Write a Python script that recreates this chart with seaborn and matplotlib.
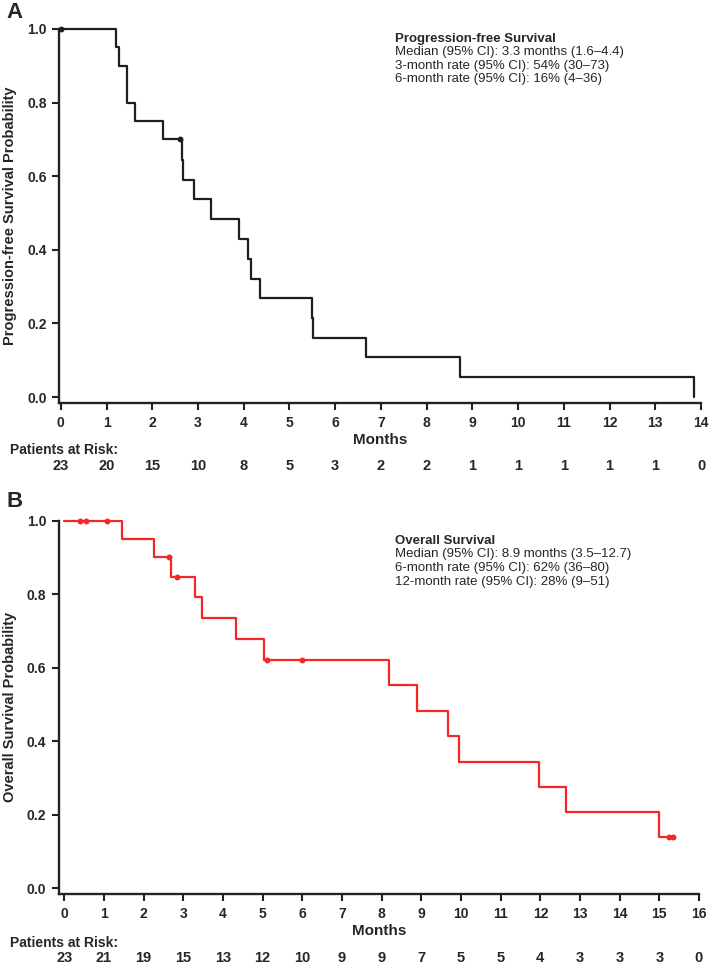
import matplotlib
matplotlib.use('Agg')
import matplotlib.pyplot as plt
import matplotlib.transforms as mtransforms
import seaborn as sns

# Progression-free survival (panel A)
pfs_time = [0, 1.21, 1.27, 1.44, 1.63, 2.23, 2.65, 2.67, 2.91, 3.28, 3.90, 4.10, 4.16,
            4.36, 5.49, 5.51, 6.67, 8.73, 13.85]
pfs_surv = [1.0, 0.95, 0.90, 0.80, 0.75, 0.70, 0.645, 0.59, 0.537, 0.484, 0.43, 0.376,
            0.322, 0.269, 0.215, 0.161, 0.108, 0.054, 0.0]
pfs_cens_time = [0.0, 2.61]
pfs_cens_surv = [1.0, 0.70]
pfs_months = list(range(0, 15))
pfs_at_risk = [23, 20, 15, 10, 8, 5, 3, 2, 2, 1, 1, 1, 1, 1, 0]
pfs_notes = ['Median (95% CI): 3.3 months (1.6\u20134.4)',
             '3-month rate (95% CI): 54% (30\u201373)',
             '6-month rate (95% CI): 16% (4\u201336)']

# Overall survival (panel B)
os_time = [0, 1.45, 2.25, 2.70, 3.29, 3.48, 4.33, 5.03, 8.18, 8.90, 9.68, 9.94, 11.96,
           12.66, 15.0, 15.35]
os_surv = [1.0, 0.95, 0.90, 0.847, 0.791, 0.734, 0.677, 0.621, 0.552, 0.483, 0.414,
           0.344, 0.275, 0.206, 0.138, 0.138]
os_cens_time = [0.40, 0.54, 1.09, 2.64, 2.83, 5.12, 5.99, 15.25, 15.35]
os_cens_surv = [1.0, 1.0, 1.0, 0.90, 0.847, 0.621, 0.621, 0.138, 0.138]
os_months = list(range(0, 17))
os_at_risk = [23, 21, 19, 15, 13, 12, 10, 9, 9, 7, 5, 5, 4, 3, 3, 3, 0]
os_notes = ['Median (95% CI): 8.9 months (3.5\u201312.7)',
            '6-month rate (95% CI): 62% (36\u201380)',
            '12-month rate (95% CI): 28% (9\u201351)']

sns.set_style('ticks')
plt.rcParams['font.family'] = ['Liberation Sans', 'DejaVu Sans']

W, H = 709, 964
fig = plt.figure(figsize=(W / 100, H / 100), dpi=100)


def px(x, y):
    return x / W, 1 - y / H


def panel(rect, times, surv, ctimes, csurv, months, at_risk, color, ylabel,
          letter, title, notes, xmax, xmin, letter_y, note_y, ylab_x,
          months_y, risk_lbl_y, risk_y):
    left, top, right, bottom = rect
    ax = fig.add_axes([left / W, 1 - bottom / H, (right - left) / W, (bottom - top) / H])
    sns.lineplot(x=times, y=surv, drawstyle='steps-post', estimator=None, sort=False,
                 color=color, lw=1.6, ax=ax, clip_on=False)
    sns.scatterplot(x=ctimes, y=csurv, color=color, s=18, linewidth=0, ax=ax,
                    clip_on=False, zorder=5)
    ax.set_xlim(xmin, xmax)
    ax.set_ylim(-0.016, 1.0)
    ax.set_xticks(months)
    ax.set_yticks([0, 0.2, 0.4, 0.6, 0.8, 1.0])
    ax.set_yticklabels(['0.0', '0.2', '0.4', '0.6', '0.8', '1.0'])
    sns.despine(ax=ax)
    for s in ['left', 'bottom']:
        ax.spines[s].set_linewidth(1.7)
        ax.spines[s].set_color('#222222')
    ax.tick_params(direction='out', length=5, width=1.5, color='#222222',
                   labelsize=10, pad=4)
    for lab in ax.get_xticklabels() + ax.get_yticklabels():
        lab.set_fontweight('bold')
    ax.set_xlabel('')
    ax.set_ylabel('')
    # axis titles
    fig.text(*px(ylab_x, (top + bottom) / 2), ylabel, rotation=90, ha='center',
             va='center', fontsize=10.5, fontweight='bold')
    fig.text(*px((left + right) / 2, months_y), 'Months', ha='center', va='center',
             fontsize=11, fontweight='bold')
    fig.text(*px(6, letter_y), letter, ha='left', va='center', fontsize=16,
             fontweight='bold')
    # at-risk table
    fig.text(*px(10, risk_lbl_y), 'Patients at Risk:', ha='left', va='center',
             fontsize=10, fontweight='bold')
    tr = mtransforms.blended_transform_factory(ax.transData, fig.transFigure)
    for m, n in zip(months, at_risk):
        ax.text(m, 1 - risk_y / H, str(n), transform=tr, ha='center', va='center',
                fontsize=10.5, fontweight='bold')
    # summary text
    fig.text(*px(395, note_y[0]), title, ha='left', va='center', fontsize=9.5,
             fontweight='bold')
    for yy, t in zip(note_y[1:], notes):
        fig.text(*px(395, yy), t, ha='left', va='center', fontsize=9.5)
    return ax


panel((59, 29, 701, 403), pfs_time, pfs_surv, pfs_cens_time, pfs_cens_surv,
      pfs_months, pfs_at_risk, '#1e1e1e', 'Progression-free Survival Probability',
      'A', 'Progression-free Survival', pfs_notes, 14, -0.04, 12,
      [39, 52.5, 66, 79], 10, 440, 450, 466)

panel((58.7, 520.7, 699, 894), os_time, os_surv, os_cens_time, os_cens_surv,
      os_months, os_at_risk, '#f42626', 'Overall Survival Probability',
      'B', 'Overall Survival', os_notes, 16, -0.14, 501,
      [541, 554.5, 568, 581.5], 10, 931, 943, 958)

fig.savefig('out.png', dpi=100)
